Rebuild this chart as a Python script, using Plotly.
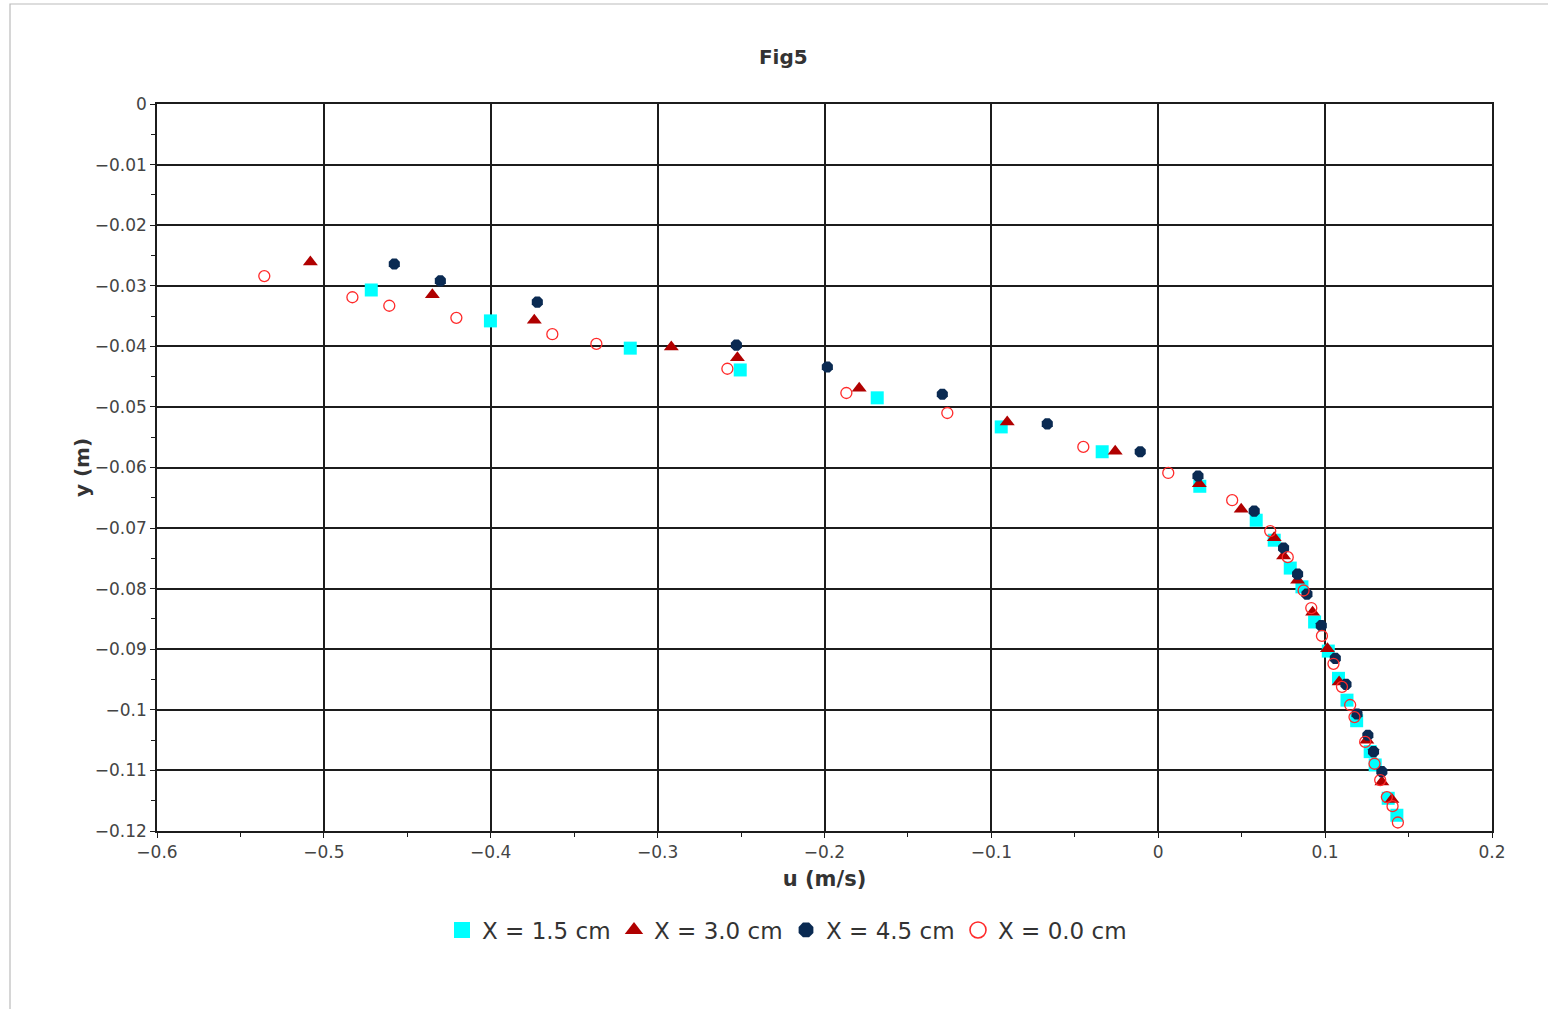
import plotly.graph_objects as go

# Velocity profiles u(y) at four streamwise stations
u_x15 = [-0.4716, -0.4002, -0.3164, -0.2505, -0.1684, -0.0941, -0.0336, 0.0249, 0.0587,
         0.0695, 0.0791, 0.0861, 0.0937, 0.1019, 0.1080, 0.1131, 0.1189, 0.1270, 0.1300,
         0.1378, 0.1430]
y_x15 = [-0.0307, -0.0358, -0.0403, -0.0439, -0.0485, -0.0533, -0.0574, -0.0631, -0.0687,
         -0.0720, -0.0766, -0.0797, -0.0855, -0.0903, -0.0948, -0.0984, -0.1018, -0.1069,
         -0.1091, -0.1146, -0.1174]

u_x30 = [-0.5081, -0.4350, -0.3739, -0.2918, -0.2522, -0.1792, -0.0905, -0.0258, 0.0246,
         0.0497, 0.0695, 0.0751, 0.0835, 0.0925, 0.1014, 0.1084, 0.1250, 0.1340, 0.1400]
y_x30 = [-0.0261, -0.0315, -0.0357, -0.0401, -0.0419, -0.0469, -0.0525, -0.0573, -0.0627,
         -0.0669, -0.0716, -0.0746, -0.0786, -0.0839, -0.0899, -0.0954, -0.1050, -0.1119,
         -0.1148]

u_x45 = [-0.4578, -0.4302, -0.3721, -0.2528, -0.1983, -0.1294, -0.0665, -0.0108, 0.0238,
         0.0575, 0.0751, 0.0835, 0.0891, 0.0977, 0.1061, 0.1125, 0.1191, 0.1256, 0.1290,
         0.1340]
y_x45 = [-0.0264, -0.0292, -0.0327, -0.0398, -0.0434, -0.0479, -0.0528, -0.0574, -0.0614,
         -0.0672, -0.0733, -0.0776, -0.0809, -0.0861, -0.0915, -0.0958, -0.1007, -0.1042,
         -0.1069, -0.1102]

u_x00 = [-0.5357, -0.4829, -0.4608, -0.4206, -0.3631, -0.3367, -0.2582, -0.1869, -0.1264,
         -0.0449, 0.0060, 0.0443, 0.0671, 0.0776, 0.0871, 0.0917, 0.0981, 0.1050, 0.1101,
         0.1150, 0.1176, 0.1240, 0.1296, 0.1330, 0.1370, 0.1404, 0.1436]
y_x00 = [-0.0284, -0.0319, -0.0333, -0.0353, -0.0380, -0.0396, -0.0437, -0.0477, -0.0510,
         -0.0566, -0.0609, -0.0654, -0.0705, -0.0748, -0.0803, -0.0832, -0.0878, -0.0924,
         -0.0962, -0.0992, -0.1012, -0.1053, -0.1089, -0.1116, -0.1144, -0.1159, -0.1186]

x_ticks = [-0.6, -0.5, -0.4, -0.3, -0.2, -0.1, 0, 0.1, 0.2]
y_ticks = [0, -0.01, -0.02, -0.03, -0.04, -0.05, -0.06, -0.07, -0.08, -0.09, -0.1, -0.11, -0.12]

FONT = "DejaVu Sans"
GRID = "#1c1c1c"

# plot-area geometry in pixels
W, H = 1548, 1009
ML, MR, MT, MB = 157, 56, 104, 178
PW, PH = W - ML - MR, H - MT - MB

series = [
    (u_x15, y_x15, "X = 1.5 cm", dict(symbol="square", size=13, color="#00FFFF")),
    (u_x30, y_x30, "X = 3.0 cm", dict(symbol="triangle-up", size=13, color="#B00000")),
    (u_x45, y_x45, "X = 4.5 cm", dict(symbol="octagon", size=12, color="#0A2A52")),
    (u_x00, y_x00, "X = 0.0 cm", dict(symbol="circle-open", size=11, color="#FF2A2A",
                                       line=dict(width=1.3, color="#FF2A2A"))),
]

fig = go.Figure()
for i, (xs, ys, name, mk) in enumerate(series):
    marker = dict(mk)
    marker.setdefault("line", dict(width=0))
    fig.add_trace(go.Scatter(x=xs, y=ys, mode="markers", name=name, legendgroup=name,
                             showlegend=False, marker=marker))
    # legend key drawn with an enlarged symbol
    key = dict(marker)
    key["size"] = 22
    if mk["symbol"] == "circle-open":
        key["line"] = dict(width=1.6, color=mk["color"])
    fig.add_trace(go.Scatter(x=[None], y=[None], mode="markers", name=name, legendgroup=name,
                             legendrank=i, showlegend=True, marker=key, hoverinfo="skip"))

axis_common = dict(
    showgrid=True, gridcolor=GRID, gridwidth=1.5,
    showline=True, linecolor=GRID, linewidth=1.5, mirror=True,
    zeroline=False,
    ticks="outside", ticklen=5, tickcolor=GRID, tickwidth=1.2,
    tickfont=dict(family=FONT, size=17, color="#444444"),
    minor=dict(ticks="outside", ticklen=4, tickcolor=GRID, tickwidth=1.2, showgrid=False),
)


def fmt(v):
    return f"{v:g}".replace("-", "\u2212")


fig.update_xaxes(range=[-0.6, 0.2], tickvals=x_ticks, ticktext=[fmt(v) for v in x_ticks],
                 minor_dtick=0.05,
                 title=dict(text="<b>u (m/s)</b>", standoff=10,
                            font=dict(family=FONT, size=21, color="#333333")),
                 **axis_common)
fig.update_yaxes(range=[-0.12, 0], tickvals=y_ticks, ticktext=[fmt(v) for v in y_ticks],
                 minor_dtick=0.005,
                 title=dict(text="<b>y (m)</b>", standoff=0,
                            font=dict(family=FONT, size=20, color="#333333")),
                 **axis_common)

fig.update_layout(
    width=W, height=H, autosize=False,
    margin=dict(l=ML, r=MR, t=MT, b=MB, autoexpand=False),
    paper_bgcolor="white", plot_bgcolor="white",
    title=dict(text="<b>Fig5</b>", x=0.506, xref="container", y=1 - 57 / H, yref="container",
               xanchor="center", yanchor="middle",
               font=dict(family=FONT, size=20, color="#333333")),
    legend=dict(orientation="h", x=(786 - ML) / PW, xanchor="center",
                y=(MT + PH - 930) / PH, yanchor="middle",
                font=dict(family=FONT, size=23, color="#333333"),
                itemsizing="trace", itemwidth=30, entrywidth=127, entrywidthmode="pixels",
                bgcolor="rgba(0,0,0,0)"),
    showlegend=True,
    shapes=[dict(type="rect", xref="paper", yref="paper",
                 x0=(10 - ML) / PW, x1=(1600 - ML) / PW,
                 y0=(MT + PH - 1040) / PH, y1=1 + (MT - 4) / PH,
                 line=dict(color="#BBBBBB", width=1.2), layer="below")],
)

fig.write_html("out.html")
